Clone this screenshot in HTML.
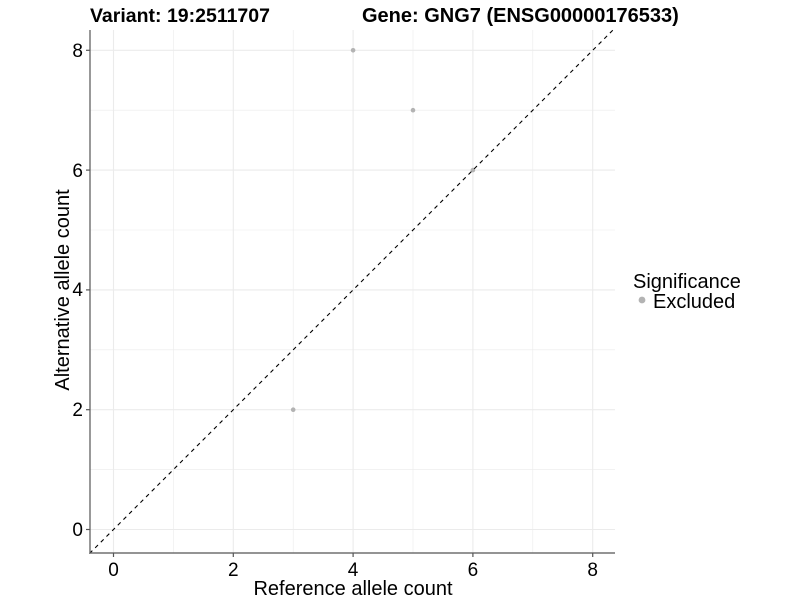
<!DOCTYPE html>
<html><head><style>body{margin:0;background:#fff}svg{display:block}text{font-family:"Liberation Sans",Arial,sans-serif}</style></head>
<body>
<svg width="800" height="600" viewBox="0 0 800 600">
<g stroke="#ebebeb" stroke-width="0.6">
<line x1="173.4" y1="30" x2="173.4" y2="553"/><line x1="293.2" y1="30" x2="293.2" y2="553"/><line x1="413" y1="30" x2="413" y2="553"/><line x1="532.8" y1="30" x2="532.8" y2="553"/>
<line x1="90" y1="469.6" x2="615" y2="469.6"/><line x1="90" y1="349.8" x2="615" y2="349.8"/><line x1="90" y1="230" x2="615" y2="230"/><line x1="90" y1="110.2" x2="615" y2="110.2"/>
</g>
<g stroke="#ebebeb" stroke-width="1.1">
<line x1="113.5" y1="30" x2="113.5" y2="553"/><line x1="233.3" y1="30" x2="233.3" y2="553"/><line x1="353.1" y1="30" x2="353.1" y2="553"/><line x1="472.9" y1="30" x2="472.9" y2="553"/><line x1="592.7" y1="30" x2="592.7" y2="553"/>
<line x1="90" y1="529.5" x2="615" y2="529.5"/><line x1="90" y1="409.7" x2="615" y2="409.7"/><line x1="90" y1="289.9" x2="615" y2="289.9"/><line x1="90" y1="170.1" x2="615" y2="170.1"/><line x1="90" y1="50.3" x2="615" y2="50.3"/>
</g>
<g fill="#b3b3b3">
<circle cx="353.1" cy="50.3" r="2.3"/><circle cx="413" cy="110.2" r="2.3"/><circle cx="293.2" cy="409.7" r="2.3"/><circle cx="472.9" cy="170.1" r="2.3"/>
</g>
<line x1="89.5" y1="553.5" x2="613" y2="30" stroke="#000" stroke-width="1.1" stroke-dasharray="4,4"/>
<g stroke="#555" stroke-width="1.2">
<line x1="90" y1="30" x2="90" y2="553"/><line x1="90" y1="553" x2="615" y2="553"/>
<line x1="86" y1="529.5" x2="90" y2="529.5"/><line x1="86" y1="409.7" x2="90" y2="409.7"/><line x1="86" y1="289.9" x2="90" y2="289.9"/><line x1="86" y1="170.1" x2="90" y2="170.1"/><line x1="86" y1="50.3" x2="90" y2="50.3"/>
<line x1="113.5" y1="553" x2="113.5" y2="557"/><line x1="233.3" y1="553" x2="233.3" y2="557"/><line x1="353.1" y1="553" x2="353.1" y2="557"/><line x1="472.9" y1="553" x2="472.9" y2="557"/><line x1="592.7" y1="553" x2="592.7" y2="557"/>
</g>
<g font-size="19" fill="#000" text-anchor="end">
<text x="83" y="536">0</text><text x="83" y="416">2</text><text x="83" y="296">4</text><text x="83" y="177">6</text><text x="83" y="57">8</text>
</g>
<g font-size="19" fill="#000" text-anchor="middle">
<text x="113.5" y="576">0</text><text x="233.3" y="576">2</text><text x="353.1" y="576">4</text><text x="472.9" y="576">6</text><text x="592.7" y="576">8</text>
</g>
<g font-size="20" fill="#000" text-anchor="middle">
<text x="353" y="595">Reference allele count</text>
<text transform="translate(69,290) rotate(-90)">Alternative allele count</text>
</g>
<text x="90" y="22" font-size="19.5" font-weight="bold">Variant: 19:2511707</text>
<text x="362" y="22" font-size="20" font-weight="bold">Gene: GNG7 (ENSG00000176533)</text>
<text x="633" y="288" font-size="20">Significance</text>
<circle cx="642" cy="300" r="3.4" fill="#b3b3b3"/>
<text x="653" y="308" font-size="20">Excluded</text>
</svg>
</body></html>
